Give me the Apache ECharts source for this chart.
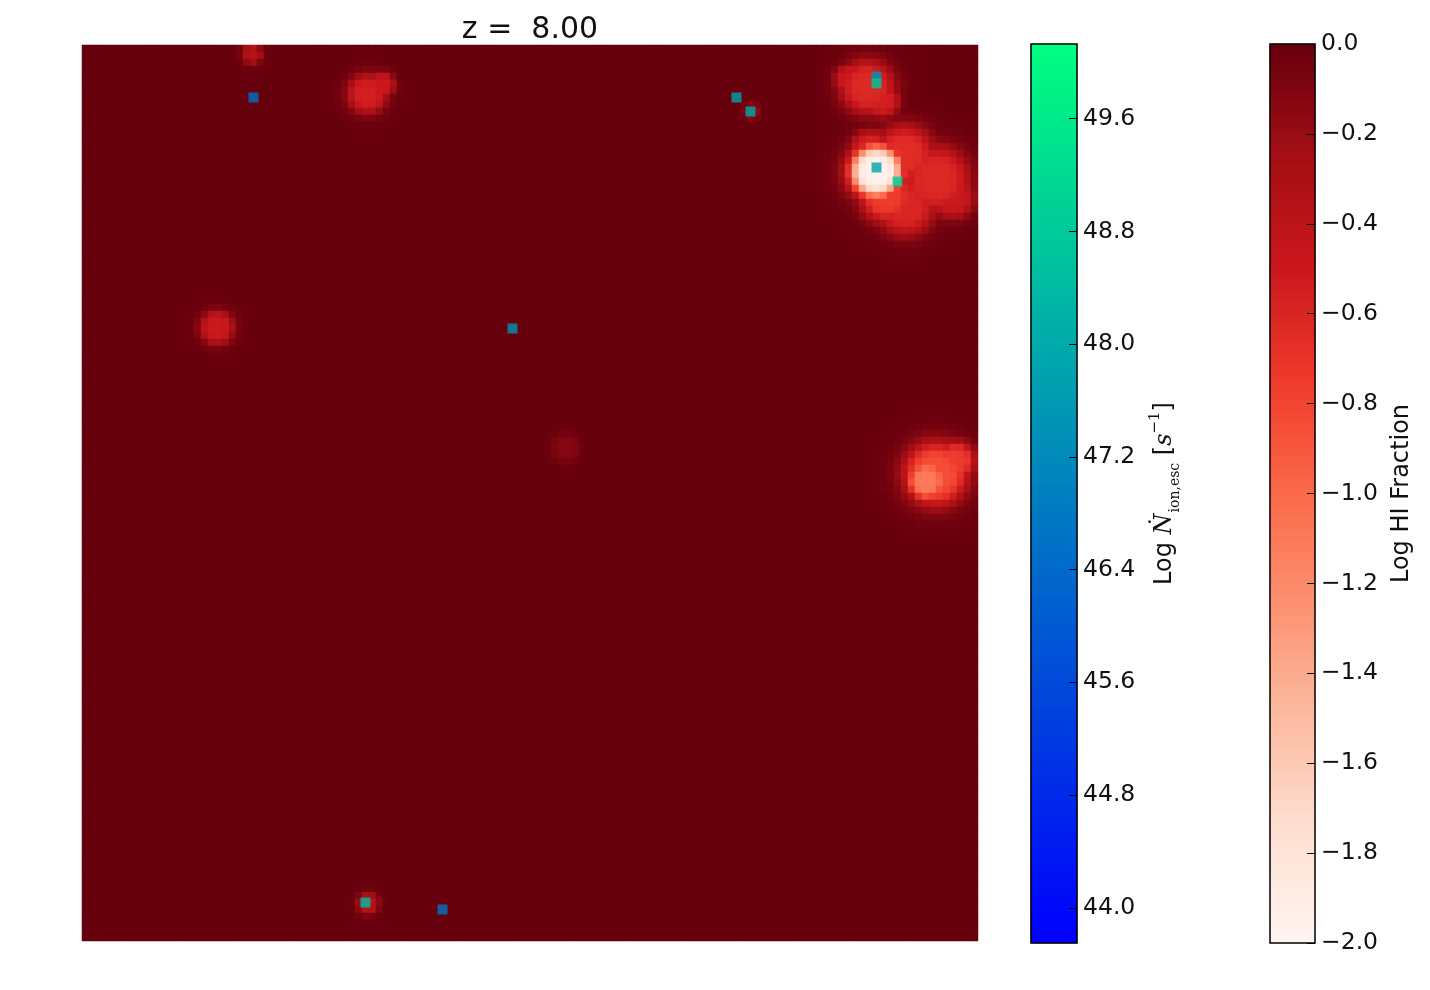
<!DOCTYPE html>
<html><head><meta charset="utf-8">
<script src="https://cdn.jsdelivr.net/npm/echarts@6/dist/echarts.min.js"></script>
<style>html,body{margin:0;padding:0;background:#fff}#c{width:1430px;height:990px}</style>
</head><body><div id="c"></div>
<script>
// ---- data (field in cell units of a 128x128 box, origin top-left) ----
const titleText = 'z =  8.00';
const gridN = 128;
// ionized bubbles: [centre col, centre row, radius (cells), log HI fraction at centre]
const bubbles = [
  [113.5, 18.1, 3.6, -1.95],
  [117.5, 15.6, 4.0, -0.65],
  [122.0, 19.2, 4.6, -0.62],
  [117.7, 23.1, 4.0, -0.60],
  [114.9, 21.6, 3.6, -0.75],
  [112.7, 15.2, 2.8, -0.60],
  [124.5, 21.8, 2.9, -0.50],
  [112.2, 6.0, 3.7, -0.62],
  [109.6, 4.9, 2.0, -0.50],
  [114.4, 8.0, 2.3, -0.55],
  [122.0, 61.3, 4.4, -0.85],
  [120.7, 62.3, 2.7, -1.10],
  [124.9, 59.4, 2.6, -0.75],
  [40.8, 7.0, 2.7, -0.55],
  [42.9, 5.7, 1.7, -0.50],
  [19.3, 40.4, 2.3, -0.50],
  [24.3, 1.3, 1.4, -0.35],
  [69.1, 57.6, 2.0, -0.12],
  [40.9, 122.7, 1.5, -0.35],
  [95.7, 9.5, 1.2, -0.15]
];
// sources: col, row, log N_ion,esc
const srcCol = [24.2, 93.3, 95.7, 113.7, 113.3, 113.3, 116.3, 61.4, 40.2, 51.2];
const srcRow = [7.0, 7.0, 9.6, 4.4, 5.6, 17.1, 19.1, 40.6, 122.7, 123.1];
const srcVal = [46.5, 47.8, 48.0, 47.4, 48.7, 47.8, 49.0, 47.3, 48.5, 46.7];
const nionMin = 43.75, nionMax = 50.13;
const nionTicks = [44.0, 44.8, 45.6, 46.4, 47.2, 48.0, 48.8, 49.6];
const hiMin = -2.0, hiMax = 0.0;
const hiTicks = [0.0, -0.2, -0.4, -0.6, -0.8, -1.0, -1.2, -1.4, -1.6, -1.8, -2.0];
const redsColors = ['#fff5f0','#fee0d2','#fcbba1','#fc9272','#fb6a4a','#ef3b2c','#cb181d','#a50f15','#67000d'];
const winterColors = ['#0000ff','#00ff80'];

// ---- build ----
const cats = Array.from({length: gridN}, (_, i) => i);
const field = [];
for (let i = 0; i < gridN; i++) {
  for (let j = 0; j < gridN; j++) {
    const x = i + 0.5, y = j + 0.5;
    let v = 0;
    for (const b of bubbles) {
      const u = Math.hypot(x - b[0], y - b[1]) / b[2];
      v = Math.min(v, b[3] / (1 + Math.pow(u, 6)));
    }
    field.push([i, j, Math.max(hiMin, v)]);
  }
}
const sources = srcCol.map((c, k) => [c - 0.5, srcRow[k] - 0.5, srcVal[k]]);
const NB = 899;
const bins = Array.from({length: NB}, (_, i) => i);
const nionBar = bins.map(i => [0, i, nionMin + (i + 0.5) * (nionMax - nionMin) / NB]);
const hiBar = bins.map(i => [0, i, hiMin + (i + 0.5) * (hiMax - hiMin) / NB]);

const FONT = 'DejaVu Sans';
const minus = s => s.replace('-', '\u2212');
const cbAxisCommon = {
  type: 'value', position: 'right', z: 10,
  axisLine: {show: false}, splitLine: {show: false},
  axisTick: {show: true, inside: true, length: 8, lineStyle: {color: '#000', width: 1}},
  axisLabel: {show: true, color: '#111', fontFamily: FONT, fontSize: 23.5, margin: 6, padding: [7, 0, 0, 0], showMinLabel: true, showMaxLabel: true},
  nameLocation: 'middle', nameRotate: 90
};

const option = {
  animation: false,
  backgroundColor: '#fff',
  title: {text: titleText, left: 525, top: 10, textAlign: 'center',
          textStyle: {fontFamily: FONT, fontSize: 30, fontWeight: 'normal', color: '#111'}},
  grid: [
    {left: 82, top: 45, width: 896, height: 896, show: false},
    {left: 1031, top: 44, width: 46, height: 899, show: true, z: 10, backgroundColor: 'transparent', borderColor: '#000', borderWidth: 1.5},
    {left: 1270, top: 44, width: 45, height: 899, show: true, z: 10, backgroundColor: 'transparent', borderColor: '#000', borderWidth: 1.5}
  ],
  xAxis: [
    {type: 'category', data: cats, gridIndex: 0, show: false},
    {type: 'category', data: [0], gridIndex: 1, show: false},
    {type: 'category', data: [0], gridIndex: 2, show: false}
  ],
  yAxis: [
    {type: 'category', data: cats, gridIndex: 0, show: false, inverse: true},
    {type: 'category', data: bins, gridIndex: 1, show: false},
    Object.assign({}, cbAxisCommon, {
      gridIndex: 1, min: nionMin, max: nionMax,
      axisTick: Object.assign({}, cbAxisCommon.axisTick, {customValues: nionTicks}),
      axisLabel: Object.assign({}, cbAxisCommon.axisLabel, {customValues: nionTicks, formatter: v => v.toFixed(1)}),
      name: '{a|Log }{n|Ṅ}{sub|ion,esc}{a| [}{n|s}{sup|\u22121}{a|]}',
      nameGap: 71,
      nameTextStyle: {
        color: '#111',
        rich: {
          a: {fontFamily: FONT, fontSize: 24, color: '#111', lineHeight: 34},
          n: {fontFamily: 'DejaVu Serif', fontStyle: 'italic', fontSize: 24, color: '#111', lineHeight: 34},
          sub: {fontFamily: 'DejaVu Serif', fontSize: 14, color: '#111', verticalAlign: 'bottom', lineHeight: 34, padding: [0, 0, 0, 1]},
          sup: {fontFamily: 'DejaVu Serif', fontSize: 15, color: '#111', verticalAlign: 'top', lineHeight: 34}
        }
      }
    }),
    {type: 'category', data: bins, gridIndex: 2, show: false},
    Object.assign({}, cbAxisCommon, {
      gridIndex: 2, min: hiMin, max: hiMax,
      axisTick: Object.assign({}, cbAxisCommon.axisTick, {customValues: hiTicks}),
      axisLabel: Object.assign({}, cbAxisCommon.axisLabel, {customValues: hiTicks, formatter: v => minus(v.toFixed(1))}),
      name: 'Log HI Fraction', nameGap: 75,
      nameTextStyle: {fontFamily: FONT, fontSize: 24, color: '#111'}
    })
  ],
  visualMap: [
    {type: 'continuous', show: false, min: hiMin, max: hiMax, dimension: 2, seriesIndex: [0, 3], inRange: {color: redsColors}},
    {type: 'continuous', show: false, min: nionMin, max: nionMax, dimension: 2, seriesIndex: [1, 2], inRange: {color: winterColors}}
  ],
  series: [
    {type: 'heatmap', xAxisIndex: 0, yAxisIndex: 0, data: field, progressive: 0, emphasis: {disabled: true}},
    {type: 'scatter', xAxisIndex: 0, yAxisIndex: 0, data: sources, symbol: 'rect', symbolSize: 10, z: 5},
    {type: 'heatmap', xAxisIndex: 1, yAxisIndex: 1, data: nionBar, progressive: 0, emphasis: {disabled: true}},
    {type: 'heatmap', xAxisIndex: 2, yAxisIndex: 3, data: hiBar, progressive: 0, emphasis: {disabled: true}}
  ]
};
const chart = echarts.init(document.getElementById('c'), null, {renderer: 'canvas'});
chart.setOption(option);
</script>
</body></html>
